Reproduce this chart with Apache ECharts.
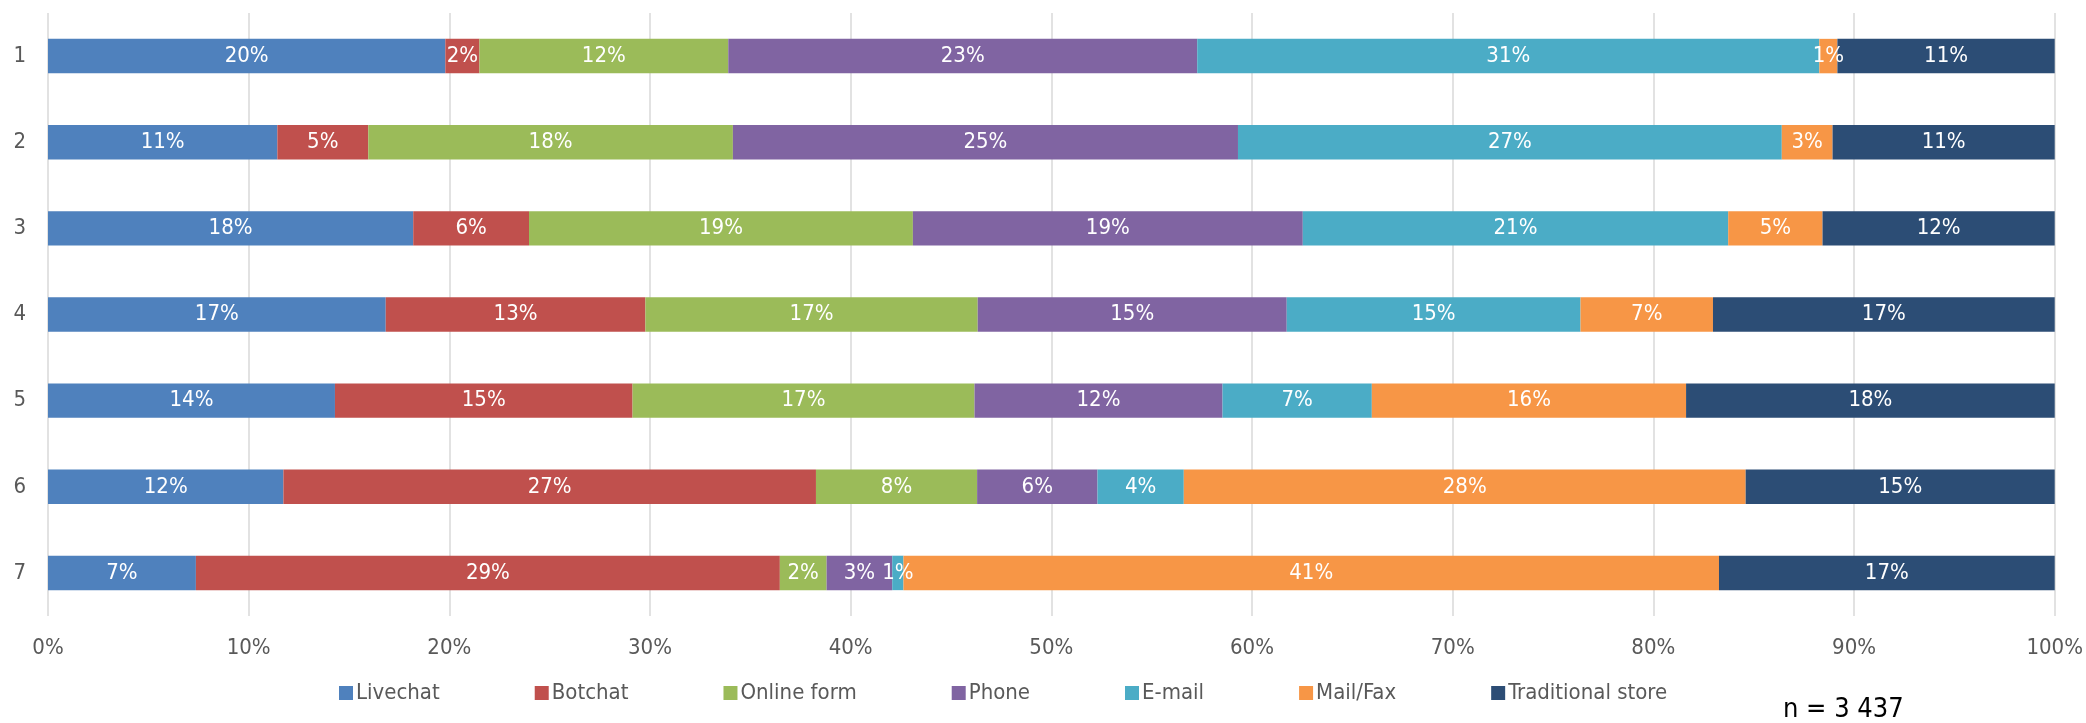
<!DOCTYPE html>
<html><head><meta charset="UTF-8">
<title>channels</title>
<script src="https://cdn.jsdelivr.net/npm/echarts@6/dist/echarts.min.js"></script>
<style>html,body{margin:0;padding:0;background:#fff}#chart{width:2086px;height:723px}</style>
</head>
<body>
<div id="chart"></div>
<script>
// rows top to bottom
const categories = ['1', '2', '3', '4', '5', '6', '7'];
const seriesNames = ['Livechat', 'Botchat', 'Online form', 'Phone', 'E-mail', 'Mail/Fax', 'Traditional store'];
const colors = ['#4F81BD', '#C0504D', '#9BBB59', '#8064A2', '#4BACC6', '#F79646', '#2C4D75'];

// shares in % per row
const livechat    = [19.8, 11.43, 18.2, 16.83, 14.3, 11.73, 7.37];
const botchat     = [1.7, 4.53, 5.77, 12.94, 14.83, 26.54, 29.1];
const onlineForm  = [12.4, 18.17, 19.13, 16.56, 17.04, 8.03, 2.33];
const phone       = [23.37, 25.17, 19.43, 15.4, 12.36, 6.0, 3.27];
const email       = [31.0, 27.1, 21.2, 14.64, 7.44, 4.3, 0.56];
const mailFax     = [0.9, 2.53, 4.7, 6.6, 15.66, 28.0, 40.64];
const tradStore   = [10.83, 11.07, 11.57, 17.03, 18.37, 15.4, 16.73];

const xTicks = [0, 10, 20, 30, 40, 50, 60, 70, 80, 90, 100];
const sampleNote = 'n = 3 437';

const FONT = "'Liberation Sans Narrow', 'Arial Narrow', 'DejaVu Sans Condensed', sans-serif";
const values = [livechat, botchat, onlineForm, phone, email, mailFax, tradStore];

const chart = echarts.init(document.getElementById('chart'));

chart.setOption({
    animation: false,
    textStyle: { fontFamily: FONT },
    color: colors,
    grid: { left: 48, right: 29, top: 13, bottom: 107, containLabel: false },
    legend: {
        data: seriesNames,
        left: 334, top: 677,
        itemWidth: 14, itemHeight: 14, itemGap: 95,
        icon: 'rect',
        textStyle: { fontFamily: FONT, fontSize: 22, color: '#595959', padding: [0, 0, 0, -2] }
    },
    xAxis: {
        type: 'value', min: xTicks[0], max: xTicks[xTicks.length - 1], interval: 10,
        axisLine: { show: false }, axisTick: { show: false },
        splitLine: { lineStyle: { color: '#d9d9d9', width: 1.5 } },
        axisLabel: { margin: 21, fontSize: 22, color: '#595959', fontFamily: FONT, formatter: v => v + '%' }
    },
    yAxis: {
        type: 'category', data: categories, inverse: true,
        axisLine: { show: false }, axisTick: { show: false },
        axisLabel: { margin: 22, fontSize: 22, color: '#595959', fontFamily: FONT }
    },
    graphic: [{
        type: 'text', left: 1783, top: 696,
        style: { text: sampleNote, font: '27px ' + FONT, fill: '#000' }
    }],
    series: seriesNames.map((name, i) => ({
        name: name,
        type: 'bar',
        stack: 'total',
        barWidth: '40%',
        data: values[i],
        itemStyle: { color: colors[i] },
        label: {
            show: true, position: 'inside', color: '#fff',
            fontSize: 22, fontFamily: FONT,
            formatter: p => Math.round(p.value) + '%'
        }
    }))
});
</script>
</body></html>
